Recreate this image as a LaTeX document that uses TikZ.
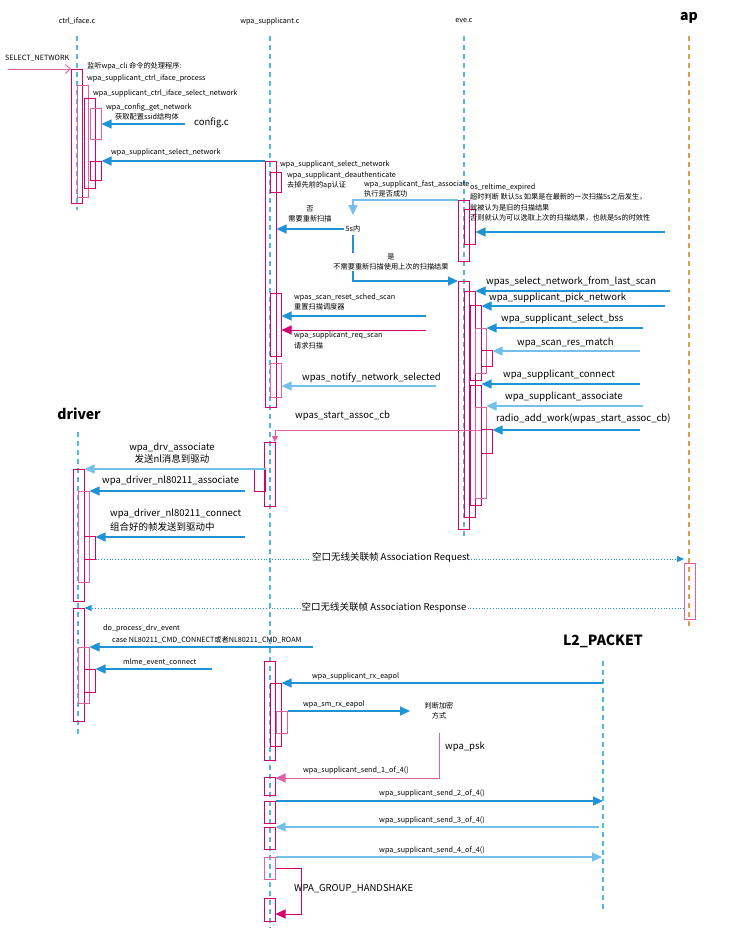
\documentclass[tikz,border=0pt]{standalone}
\usepackage{fontspec}
\setmainfont{Noto Sans CJK SC}
\usetikzlibrary{arrows.meta}
\definecolor{lifeblue}{RGB}{86,180,230}
\definecolor{msgblue}{RGB}{30,148,214}
\definecolor{msglight}{RGB}{115,192,234}
\definecolor{magdark}{RGB}{212,0,110}
\definecolor{maglight}{RGB}{226,95,163}
\definecolor{aporange}{RGB}{232,155,70}
\newcommand{\smallfnt}{\fontsize{7.2}{10.3}\selectfont}
\newcommand{\bigfnt}{\fontsize{9.5}{12}\selectfont}
\newcommand{\headfnt}{\fontsize{14}{16}\selectfont\bfseries}

\begin{document}
\begin{tikzpicture}[x=1pt, y=-1pt,
  lifeline/.style={draw=lifeblue, line width=1.1pt, dash pattern=on 5pt off 4pt},
  actd/.style={draw=magdark, line width=0.9pt, anchor=north west, inner sep=0pt, outer sep=0pt, minimum width=11.5pt},
  actl/.style={actd, draw=maglight},
  msg/.style={draw=msgblue, line width=1.2pt, -{Triangle[length=10pt,width=9pt]}},
  msglt/.style={msg, draw=msglight},
  back/.style={draw=magdark, line width=1pt, -{Triangle[length=10pt,width=9pt]}},
  air/.style={draw=msgblue, line width=0.8pt, dotted, -{Triangle[length=7pt,width=6pt]}},
  lbl/.style={anchor=west, inner sep=0pt, font=\smallfnt, align=left},
  biglbl/.style={anchor=west, inner sep=0pt, font=\bigfnt, align=left},
  head/.style={inner sep=0pt, font=\smallfnt},
  title/.style={inner sep=0pt, font=\headfnt}
]
\useasboundingbox (0,0) rectangle (732,930);

% headers and lifelines
\node[head] (ctrlhd) at (77,21) {ctrl\_iface.c};
\node[head] (supphd) at (270,21) {wpa\_supplicant.c};
\node[head] (evehd) at (464,21) {eve.c};
\node[title] (aphd) at (689,18) {ap};
\node[title] (drvhd) at (79,414) {driver};
\node[title] (l2hd) at (603,641) {L2\_PACKET};
\draw[lifeline] (77,36) -- (77,210);
\draw[lifeline] (270,36) -- (270,928);
\draw[lifeline] (464,36) -- (464,537);
\draw[lifeline, draw=aporange] (689,36) -- (689,630);
\draw[lifeline] (78,432) -- (78,737);
\draw[lifeline] (603,661) -- (603,912);

% ctrl_iface.c
\node[actd, minimum height=134pt] (ci1) at (71,69) {};
\node[actl, minimum height=112pt] (ci2) at (77,85) {};
\node[actd, minimum height=90pt] (ci3) at (84,98) {};
\node[actl, minimum height=31pt] (ci4) at (90,108) {};
\node[actd, minimum height=19pt] (ci5) at (90,161) {};

% wpa_supplicant.c
\node[actd, minimum height=246pt] (sp1) at (265,161) {};
\node[actd, minimum height=20pt] (sp2) at (270,172) {};
\node[actd, minimum height=63pt] (sp3) at (270,293) {};
\node[actl, minimum height=34pt] (sp4) at (270,363) {};
\node[actd, minimum height=64pt] (sp5) at (264,442) {};
\node[actd, minimum height=22pt] (sp6) at (254,469) {};
\node[actd, minimum height=99pt] (sp7) at (264,661) {};
\node[actd, minimum height=63pt] (sp8) at (270,683) {};
\node[actl, minimum height=22pt] (sp9) at (276,711) {};
\node[actd, minimum height=18pt] (sp10) at (264,777) {};
\node[actd, minimum height=22pt] (sp11) at (264,801) {};
\node[actd, minimum height=22pt] (sp12) at (264,827) {};
\node[actl, minimum height=22pt] (sp13) at (264,857) {};
\node[actd, minimum height=23pt] (sp14) at (264,898) {};

% eve.c
\node[actd, minimum height=61pt] (ev1) at (458,200) {};
\node[actd, minimum height=35pt] (ev2) at (464,209) {};
\node[actd, minimum height=248pt] (ev3) at (458,281) {};
\node[actd, minimum height=226pt] (ev4) at (464,291) {};
\node[actd, minimum height=75pt] (ev5) at (470,305) {};
\node[actl, minimum height=45pt] (ev6) at (475,328) {};
\node[actd, minimum height=16pt] (ev7) at (481,350) {};
\node[actd, minimum height=120pt] (ev8) at (470,385) {};
\node[actl, minimum height=91pt] (ev9) at (475,407) {};
\node[actd, minimum height=24pt] (ev10) at (481,429) {};

% driver and ap
\node[actd, minimum height=132pt] (dr1) at (73,469) {};
\node[actl, minimum height=91pt] (dr2) at (78,491) {};
\node[actd, minimum height=23pt] (dr3) at (84,536) {};
\node[actd, minimum height=113pt] (dr4) at (73,608) {};
\node[actl, minimum height=56pt] (dr5) at (78,647) {};
\node[actd, minimum height=23pt] (dr6) at (84,669) {};
\node[actl, minimum height=56pt] (ap1) at (684,563) {};

% select network from wpa_cli
\coordinate (selsrc) at (8,69);
\node[lbl] (sellbl) at (5,58) {SELECT\_NETWORK};
\draw[back, line width=0.9pt, draw=maglight, -{Straight Barb[length=5pt,width=9pt]}] (selsrc) -- (ci1.north west);
\node[lbl] (clilbl) at (87,66) {监听wpa\_cli 命令的处理程序:};
\node[lbl] (proclbl) at (87,78) {wpa\_supplicant\_ctrl\_iface\_process};
\node[lbl] (ifselbl) at (93,93) {wpa\_supplicant\_ctrl\_iface\_select\_network};
\node[lbl] (getlbl) at (106,112) {wpa\_config\_get\_network\\\hspace*{9pt}获取配置ssid结构体};
\node[biglbl] (cfglbl) at (194,123) {config.c};
\coordinate (cfgsrc) at (185,124);
\draw[msg] (cfgsrc) -- (cfgsrc -| ci4.east);
\node[lbl] (sel1lbl) at (111,152) {wpa\_supplicant\_select\_network};
\draw[msg] (sp1.north west) -- (ci5.north east);

% fast associate
\node[lbl] (sel2lbl) at (280,164) {wpa\_supplicant\_select\_network};
\node[lbl] (deauthlbl) at (287,180.5) {wpa\_supplicant\_deauthenticate\\去掉先前的ap认证};
\node[lbl] (fastlbl) at (364,189) {wpa\_supplicant\_fast\_associate\\执行是否成功};
\node[head, inner sep=2pt] (fivesec) at (353,229) {5s内};
\coordinate (fastend) at (353,215);
\draw[msglt] (ev1.north west) -| (fastend);
\draw[msg] (fivesec.west) -- (fivesec.west -| sp1.east);
\node[head, align=center] (nolbl) at (310,214) {否\\需要重新扫描};
\draw[msg] (fivesec.south) |- (ev3.north west);
\node[head, align=center, fill=white, inner sep=1pt] (yeslbl) at (391,262) {是\\不需要重新扫描使用上次的扫描结果};
\node[lbl] (rellbl) at (470,202.5) {os\_reltime\_expired\\超时判断 默认5s 如果是在最新的一次扫描5s之后发生，\\就被认为是旧的扫描结果\\否则就认为可以选取上次的扫描结果，也就是5s的时效性};
\coordinate (relsrc) at (665,232);
\draw[msg] (relsrc) -- (relsrc -| ev2.east);

% scan and notify
\node[lbl] (resetlbl) at (294,302) {wpas\_scan\_reset\_sched\_scan\\重置扫描调度器};
\coordinate (resetsrc) at (426,316);
\draw[msg] (resetsrc) -- (resetsrc -| sp3.east);
\coordinate (reqsrc) at (426,330);
\draw[back] (reqsrc) -- (reqsrc -| sp3.east);
\node[lbl] (reqlbl) at (294,340.5) {wpa\_supplicant\_req\_scan\\请求扫描};
\node[biglbl] (notelbl) at (302,378) {wpas\_notify\_network\_selected};
\coordinate (notesrc) at (436,386);
\draw[msglt] (notesrc) -- (notesrc -| sp4.east);

% eve.c calls
\node[biglbl] (lastlbl) at (486,282) {wpas\_select\_network\_from\_last\_scan};
\coordinate (lastsrc) at (670,291);
\draw[msg] (lastsrc) -- (lastsrc -| ev4.east);
\node[biglbl] (picklbl) at (489,298) {wpa\_supplicant\_pick\_network};
\coordinate (picksrc) at (665,306);
\draw[msg] (picksrc) -- (picksrc -| ev5.east);
\node[biglbl] (bsslbl) at (501,319) {wpa\_supplicant\_select\_bss};
\coordinate (bsssrc) at (643,328);
\draw[msg] (bsssrc) -- (bsssrc -| ev6.east);
\node[biglbl] (matchlbl) at (517,343) {wpa\_scan\_res\_match};
\coordinate (matchsrc) at (640,351);
\draw[msglt] (matchsrc) -- (matchsrc -| ev7.east);
\node[biglbl] (connlbl) at (503,375) {wpa\_supplicant\_connect};
\coordinate (connsrc) at (640,384);
\draw[msg] (connsrc) -- (connsrc -| ev8.east);
\node[biglbl] (asslbl) at (505,397) {wpa\_supplicant\_associate};
\coordinate (asssrc) at (643,406);
\draw[msglt] (asssrc) -- (asssrc -| ev9.east);
\node[biglbl] (radiolbl) at (496,419) {radio\_add\_work(wpas\_start\_assoc\_cb)};
\coordinate (radiosrc) at (640,430);
\draw[msg] (radiosrc) -- (radiosrc -| ev10.east);

% start assoc callback
\node[biglbl] (cblbl) at (295,416) {wpas\_start\_assoc\_cb};
\coordinate (cbsrc) at (481,430);
\coordinate (cbdst) at (275,442);
\draw[back, draw=maglight, -{Triangle[length=6pt,width=6pt]}] (cbsrc) -| (cbdst);

% driver calls
\node[biglbl, anchor=center, align=center] (drvlbl) at (172,453) {wpa\_drv\_associate\\发送nl消息到驱动};
\draw[msglt] (sp6.north east) -- (dr1.north east);
\node[biglbl] (nlasslbl) at (102,481) {wpa\_driver\_nl80211\_associate};
\coordinate (nlasssrc) at (245,491);
\draw[msg] (nlasssrc) -- (dr2.north east);
\node[biglbl] (nlconlbl) at (110,520) {wpa\_driver\_nl80211\_connect\\[2pt]组合好的帧发送到驱动中};
\coordinate (nlconsrc) at (245,537);
\draw[msg] (nlconsrc) -- (nlconsrc -| dr3.east);

% air frames
\draw[air] (dr3.south east) -- (dr3.south east -| ap1.west);
\node[biglbl, anchor=center, fill=white, inner sep=1pt] (reqair) at (391,558) {空口无线关联帧 Association Request};
\coordinate (respsrc) at (684,608);
\draw[air] (respsrc) -- (dr4.north east);
\node[biglbl, anchor=center, fill=white, inner sep=1pt] (respair) at (384,608) {空口无线关联帧 Association Response};

% driver events
\node[lbl] (evtlbl) at (103,628) {do\_process\_drv\_event};
\node[lbl] (caselbl) at (112,640) {case NL80211\_CMD\_CONNECT或者NL80211\_CMD\_ROAM};
\coordinate (evtsrc) at (313,647);
\draw[msg] (evtsrc) -- (dr5.north east);
\node[lbl] (mlmelbl) at (123,662) {mlme\_event\_connect};
\coordinate (mlmesrc) at (212,669);
\draw[msg] (mlmesrc) -- (dr6.north east);

% eapol handshake
\node[lbl] (rxlbl) at (312,676) {wpa\_supplicant\_rx\_eapol};
\coordinate (rxsrc) at (603,683);
\draw[msg] (rxsrc) -- (sp8.north east);
\node[lbl] (smlbl) at (303,704) {wpa\_sm\_rx\_eapol};
\node[head, align=center] (enclbl) at (439,710.5) {判断加密\\方式};
\coordinate (smdst) at (410,711);
\draw[msg] (sp9.north east) -- (smdst);
\coordinate (psksrc) at (439,733);
\coordinate (pskturn) at (439,778);
\node[biglbl] (psklbl) at (445,747) {wpa\_psk};
\draw[back, draw=maglight] (psksrc) -- (pskturn) -- (pskturn -| sp10.east);
\node[lbl] (s1lbl) at (303,770) {wpa\_supplicant\_send\_1\_of\_4()};
\coordinate (s2dst) at (603,801);
\draw[msg] (sp11.north east) -- (s2dst);
\node[head] (s2lbl) at (432,793) {wpa\_supplicant\_send\_2\_of\_4()};
\coordinate (s3src) at (599,827);
\draw[msglt] (s3src) -- (sp12.north east);
\node[head] (s3lbl) at (432,820) {wpa\_supplicant\_send\_3\_of\_4()};
\coordinate (s4dst) at (602,857);
\draw[msglt] (sp13.north east) -- (s4dst);
\node[head] (s4lbl) at (432,850) {wpa\_supplicant\_send\_4\_of\_4()};
\coordinate (grpsrc) at (276,868);
\coordinate (grpturn) at (301,914);
\draw[back] (grpsrc) -| (grpturn) -- (grpturn -| sp14.east);
\node[biglbl] (grplbl) at (294,889) {WPA\_GROUP\_HANDSHAKE};
\end{tikzpicture}
\end{document}
